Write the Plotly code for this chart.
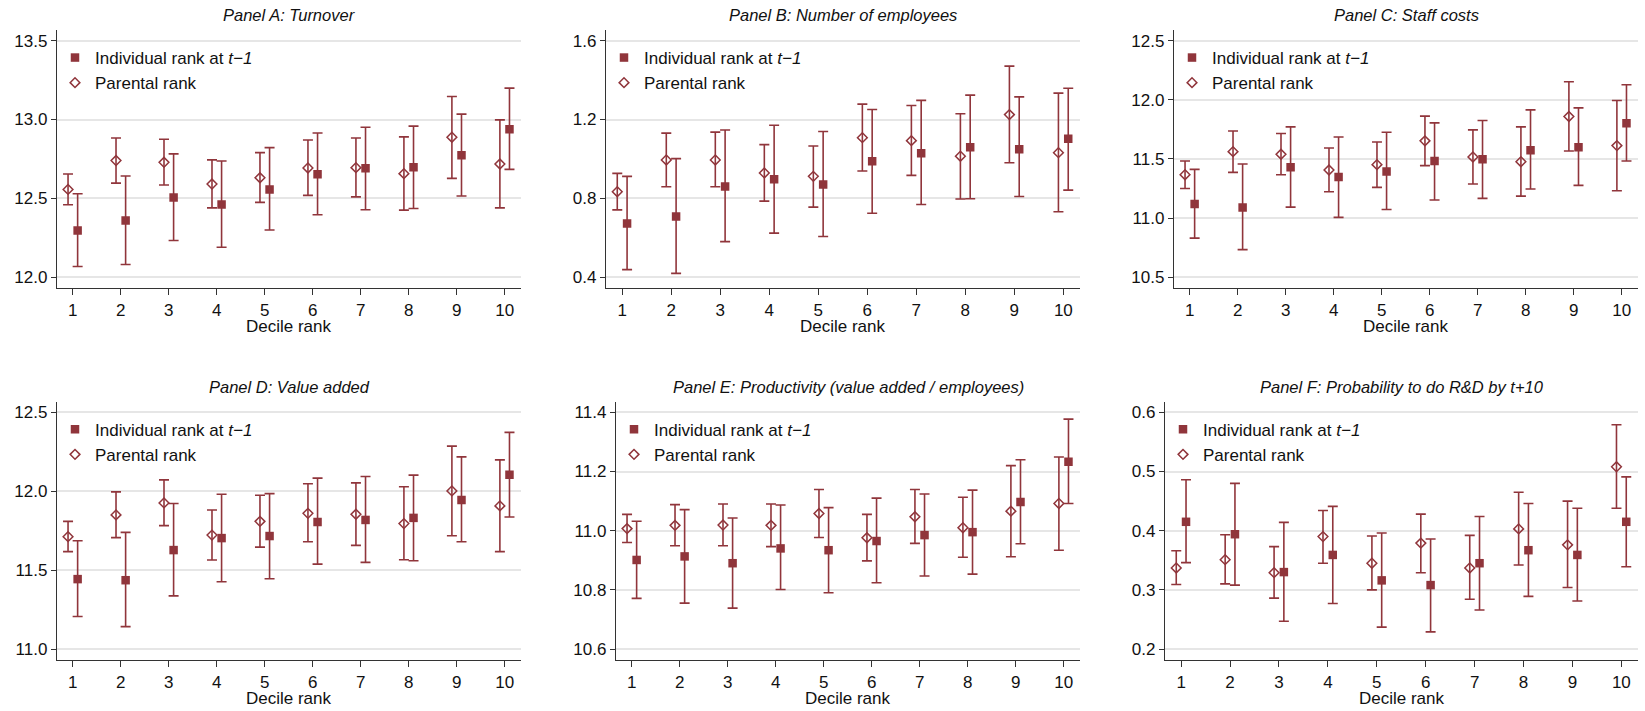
import plotly.graph_objects as go

W, H = 1645, 711
COLOR = "rgb(144,53,59)"

deciles = list(range(1, 11))
panel_titles = [
    "Panel A: Turnover",
    "Panel B: Number of employees",
    "Panel C: Staff costs",
    "Panel D: Value added",
    "Panel E: Productivity (value added / employees)",
    "Panel F: Probability to do R&D by t+10",
]
series_names = ["Individual rank at <i>t\u22121</i>", "Parental rank"]
x_title = "Decile rank"

# Panel A: Turnover
a_ind = [12.297, 12.360, 12.506, 12.462, 12.557, 12.653, 12.691, 12.697, 12.773, 12.939]
a_ind_lo = [12.068, 12.081, 12.233, 12.190, 12.300, 12.396, 12.428, 12.436, 12.515, 12.684]
a_ind_hi = [12.530, 12.642, 12.782, 12.737, 12.822, 12.915, 12.951, 12.958, 13.034, 13.199]
a_par = [12.557, 12.740, 12.729, 12.591, 12.631, 12.693, 12.695, 12.657, 12.888, 12.718]
a_par_lo = [12.460, 12.597, 12.585, 12.440, 12.475, 12.519, 12.510, 12.426, 12.627, 12.440]
a_par_hi = [12.655, 12.883, 12.875, 12.744, 12.790, 12.870, 12.883, 12.890, 13.146, 12.998]
a_ticks = [12.0, 12.5, 13.0, 13.5]

# Panel B: Number of employees
b_ind = [0.673, 0.708, 0.861, 0.897, 0.871, 0.988, 1.029, 1.059, 1.049, 1.102]
b_ind_lo = [0.439, 0.420, 0.581, 0.624, 0.607, 0.725, 0.769, 0.798, 0.810, 0.842]
b_ind_hi = [0.912, 1.002, 1.147, 1.171, 1.139, 1.251, 1.297, 1.324, 1.315, 1.359]
b_par = [0.834, 0.995, 0.995, 0.929, 0.912, 1.108, 1.093, 1.014, 1.225, 1.032]
b_par_lo = [0.742, 0.859, 0.859, 0.786, 0.756, 0.939, 0.917, 0.797, 0.981, 0.732]
b_par_hi = [0.927, 1.131, 1.136, 1.073, 1.066, 1.278, 1.271, 1.229, 1.471, 1.334]
b_ticks = [0.4, 0.8, 1.2, 1.6]

# Panel C: Staff costs
c_ind = [11.119, 11.090, 11.429, 11.347, 11.395, 11.483, 11.497, 11.573, 11.599, 11.802]
c_ind_lo = [10.831, 10.734, 11.093, 11.006, 11.073, 11.153, 11.167, 11.246, 11.277, 11.483]
c_ind_hi = [11.412, 11.458, 11.771, 11.686, 11.726, 11.805, 11.825, 11.915, 11.932, 12.127]
c_par = [11.367, 11.562, 11.540, 11.407, 11.452, 11.653, 11.517, 11.477, 11.859, 11.613]
c_par_lo = [11.251, 11.387, 11.367, 11.223, 11.260, 11.444, 11.288, 11.186, 11.568, 11.232]
c_par_hi = [11.483, 11.737, 11.715, 11.593, 11.644, 11.862, 11.746, 11.771, 12.153, 11.994]
c_ticks = [10.5, 11.0, 11.5, 12.0, 12.5]

# Panel D: Value added
d_ind = [11.443, 11.436, 11.627, 11.703, 11.716, 11.805, 11.818, 11.831, 11.945, 12.104]
d_ind_lo = [11.206, 11.142, 11.337, 11.426, 11.445, 11.538, 11.549, 11.559, 11.680, 11.837]
d_ind_hi = [11.686, 11.739, 11.922, 11.981, 11.985, 12.083, 12.093, 12.102, 12.218, 12.373]
d_par = [11.712, 11.850, 11.926, 11.722, 11.809, 11.860, 11.854, 11.795, 12.002, 11.907]
d_par_lo = [11.617, 11.706, 11.782, 11.564, 11.646, 11.680, 11.657, 11.566, 11.718, 11.617]
d_par_hi = [11.809, 11.996, 12.072, 11.881, 11.975, 12.047, 12.053, 12.028, 12.286, 12.199]
d_ticks = [11.0, 11.5, 12.0, 12.5]

# Panel E: Productivity
e_ind = [10.901, 10.913, 10.890, 10.940, 10.934, 10.965, 10.985, 10.995, 11.097, 11.233]
e_ind_lo = [10.771, 10.755, 10.738, 10.801, 10.790, 10.824, 10.847, 10.853, 10.956, 11.092]
e_ind_hi = [11.032, 11.071, 11.043, 11.087, 11.078, 11.110, 11.124, 11.137, 11.240, 11.377]
e_par = [11.007, 11.018, 11.019, 11.018, 11.058, 10.976, 11.047, 11.010, 11.066, 11.092]
e_par_lo = [10.960, 10.949, 10.949, 10.946, 10.977, 10.898, 10.957, 10.910, 10.912, 10.934]
e_par_hi = [11.055, 11.088, 11.090, 11.090, 11.139, 11.055, 11.139, 11.113, 11.220, 11.249]
e_ticks = [10.6, 10.8, 11.0, 11.2, 11.4]

# Panel F: Probability to do R&D
f_ind = [0.415, 0.394, 0.330, 0.359, 0.316, 0.308, 0.345, 0.367, 0.359, 0.415]
f_ind_lo = [0.346, 0.308, 0.247, 0.277, 0.237, 0.229, 0.266, 0.289, 0.281, 0.339]
f_ind_hi = [0.486, 0.480, 0.414, 0.441, 0.396, 0.386, 0.424, 0.446, 0.438, 0.491]
f_par = [0.337, 0.351, 0.329, 0.390, 0.345, 0.379, 0.337, 0.403, 0.376, 0.508]
f_par_lo = [0.309, 0.310, 0.286, 0.345, 0.300, 0.329, 0.284, 0.342, 0.304, 0.438]
f_par_hi = [0.366, 0.393, 0.373, 0.434, 0.391, 0.428, 0.392, 0.465, 0.450, 0.579]
f_ticks = [0.2, 0.3, 0.4, 0.5, 0.6]

panels = [
    (a_ind, a_ind_lo, a_ind_hi, a_par, a_par_lo, a_par_hi, a_ticks),
    (b_ind, b_ind_lo, b_ind_hi, b_par, b_par_lo, b_par_hi, b_ticks),
    (c_ind, c_ind_lo, c_ind_hi, c_par, c_par_lo, c_par_hi, c_ticks),
    (d_ind, d_ind_lo, d_ind_hi, d_par, d_par_lo, d_par_hi, d_ticks),
    (e_ind, e_ind_lo, e_ind_hi, e_par, e_par_lo, e_par_hi, e_ticks),
    (f_ind, f_ind_lo, f_ind_hi, f_par, f_par_lo, f_par_hi, f_ticks),
]

# layout geometry (pixels)
x_dom_px = [(57, 521), (606, 1080), (1174, 1638), (57, 521), (616, 1080), (1165, 1638)]
y_dom_px = [(30, 288.3)] * 3 + [(401.7, 660)] * 3
offset = 0.1

fig = go.Figure()
FONT = "Liberation Sans, Arial, Helvetica, sans-serif"

for i, (ind, ind_lo, ind_hi, par, par_lo, par_hi, ticks) in enumerate(panels):
    k = i + 1
    xa = "x" if k == 1 else f"x{k}"
    ya = "y" if k == 1 else f"y{k}"
    lg = "legend" if k == 1 else f"legend{k}"
    fig.add_trace(go.Scatter(
        x=[d + offset for d in deciles], y=ind, mode="markers",
        name=series_names[0], legend=lg, xaxis=xa, yaxis=ya,
        marker=dict(symbol="square", size=8.5, color=COLOR),
        error_y=dict(type="data", symmetric=False,
                     array=[h - v for h, v in zip(ind_hi, ind)],
                     arrayminus=[v - l for v, l in zip(ind, ind_lo)],
                     color=COLOR, thickness=1.6, width=5),
    ))
    fig.add_trace(go.Scatter(
        x=[d - offset for d in deciles], y=par, mode="markers",
        name=series_names[1], legend=lg, xaxis=xa, yaxis=ya,
        marker=dict(symbol="diamond-open", size=7.5, color=COLOR, line=dict(width=1.5, color=COLOR)),
        error_y=dict(type="data", symmetric=False,
                     array=[h - v for h, v in zip(par_hi, par)],
                     arrayminus=[v - l for v, l in zip(par, par_lo)],
                     color=COLOR, thickness=1.6, width=5),
    ))

    x0, x1 = x_dom_px[i]
    ytop, ybot = y_dom_px[i]
    span = ticks[-1] - ticks[0]
    yrange = [ticks[0] - 0.0465 * span, ticks[-1] + 0.045 * span]
    xkey = "xaxis" if k == 1 else f"xaxis{k}"
    ykey = "yaxis" if k == 1 else f"yaxis{k}"
    fig.update_layout(**{
        xkey: dict(domain=[x0 / W, x1 / W], anchor=ya, range=[0.67, 10.34],
                   tickvals=deciles, ticks="outside", ticklen=6, tickwidth=1.2,
                   tickcolor="#333", showline=True, linecolor="#333", linewidth=1.3,
                   showgrid=False, zeroline=False, fixedrange=True,
                   tickfont=dict(size=17, color="#111", family=FONT)),
        ykey: dict(domain=[1 - ybot / H, 1 - ytop / H], anchor=xa, range=yrange,
                   tickvals=ticks, tickformat=".1f", ticks="outside", ticklen=5,
                   tickwidth=1.2, tickcolor="#333", showline=True, linecolor="#333",
                   linewidth=1.3, showgrid=True, gridcolor="#E6E6E6", gridwidth=1.6,
                   zeroline=False, fixedrange=True,
                   tickfont=dict(size=17, color="#111", family=FONT)),
        lg: dict(x=(x0 - 2) / W, y=1 - (ytop + 10) / H, xanchor="left", yanchor="top",
                 bgcolor="rgba(0,0,0,0)", font=dict(size=17, color="#111", family=FONT),
                 tracegroupgap=0, itemclick=False, itemdoubleclick=False),
    })
    cx = (x0 + x1) / 2 / W
    fig.add_annotation(text=f"<i>{panel_titles[i]}</i>", x=cx, y=1 - (ytop - 15) / H,
                       xref="paper", yref="paper", showarrow=False,
                       font=dict(size=16.5, color="#111", family=FONT),
                       xanchor="center", yanchor="middle")
    fig.add_annotation(text=x_title, x=cx, y=1 - (ybot + 38) / H,
                       xref="paper", yref="paper", showarrow=False,
                       font=dict(size=17, color="#111", family=FONT),
                       xanchor="center", yanchor="middle")

fig.update_layout(width=W, height=H, margin=dict(l=0, r=0, t=0, b=0),
                  paper_bgcolor="white", plot_bgcolor="white", showlegend=True)

fig.write_html("out.html")
